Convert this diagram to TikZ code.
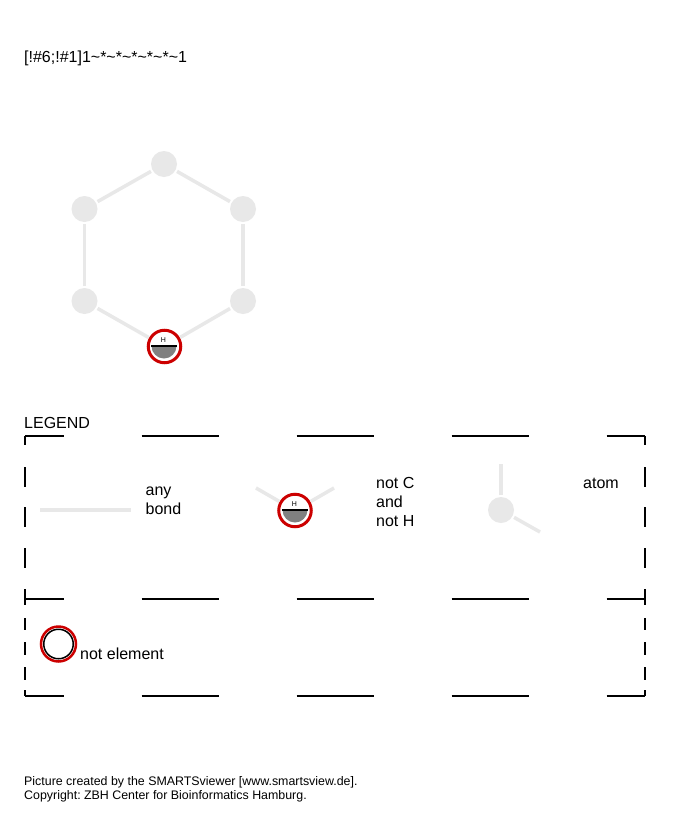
\documentclass[tikz,border=0pt]{standalone}
\usepackage{fontspec}
\setmainfont{Liberation Sans}
\usetikzlibrary{calc}
\frenchspacing

\definecolor{atomgray}{HTML}{E8E8E8}
\definecolor{halfgray}{HTML}{808080}
\definecolor{ringred}{HTML}{CC0000}

\tikzset{
	atomnode/.style={circle, fill=atomgray, minimum size=26pt, inner sep=0pt, outer sep=2pt},
	ringnode/.style={circle, draw=ringred, fill=white, line width=3pt, minimum size=32.5pt, inner sep=0pt, outer sep=2pt},
	bondline/.style={draw=atomgray, line width=3.5pt},
	frameline/.style={line width=1.8pt, black},
	label16/.style={anchor=west, inner sep=0pt, align=left, font=\fontsize{16}{19}\selectfont},
	label12/.style={anchor=west, inner sep=0pt, align=left, font=\fontsize{12.4}{14}\selectfont}
}

% half filled mark inside a ring node
\newcommand{\hmark}[2]{
	\fill [halfgray] (#1-12.5, #2) arc (180:0:12.5) -- cycle;
	\draw [line width=1.2pt] (#1-13, #2) -- (#1+13, #2);
	\node [inner sep=0pt, font=\fontsize{7}{7}\selectfont] at (#1-0.5, #2-6) {H};
}

\begin{document}
\begin{tikzpicture}[x=1pt, y=-1pt]
	\useasboundingbox (0,0) rectangle (700,830);
	\fill [white] (0,0) rectangle (700,830);

	\node [label16] (smarts) at (24, 58) {[!\#6;!\#1]1\char`~*\char`~*\char`~*\char`~*\char`~*\char`~1};

	%//six membered ring
	\node [atomnode] (a1) at (164, 164) {};
	\node [atomnode] (a2) at (243, 209) {};
	\node [atomnode] (a3) at (243, 301) {};
	\node [ringnode] (a4) at (164.5, 346.5) {};
	\node [atomnode] (a5) at (84.5, 301) {};
	\node [atomnode] (a6) at (84.5, 209) {};
	\hmark{164}{346}

	\foreach \a/\b in {a1/a2, a2/a3, a3/a4, a4/a5, a5/a6, a6/a1}
	\draw [bondline] (\a) -- (\b);

	\node [label16] (legend) at (24, 423) {LEGEND};

	%//legend frames
	\foreach \x/\y in {25/63.5, 141.5/218.5, 296.5/373.5, 451.5/528.5, 606.5/645}
	{
		\draw [frameline] (\x, 436) -- (\y, 436);
		\draw [frameline] (\x, 599) -- (\y, 599);
		\draw [frameline] (\x, 696) -- (\y, 696);
	}
	\foreach \x in {25, 645}
	{
		\foreach \y/\z in {436/445, 467/487, 507/527, 548/568, 589/605, 618/630, 642/655, 667/680, 690/696}
		\draw [frameline] (\x, \y) -- (\x, \z);
	}

	%//any bond
	\coordinate (b1) at (40, 510);
	\coordinate (b2) at (131, 510);
	\draw [bondline] (b1) -- (b2);
	\node [label16] (anybond) at (145.5, 501) {any\\bond};

	%//not C and not H
	\node [ringnode] (n1) at (295, 510.5) {};
	\hmark{295}{510}
	\coordinate (n2) at (256, 488);
	\coordinate (n3) at (334, 488);
	\draw [bondline] (n1) -- (n2);
	\draw [bondline] (n1) -- (n3);
	\node [label16] (notch) at (376, 502) {not C\\and\\not H};

	%//atom
	\node [atomnode] (t1) at (501, 510) {};
	\coordinate (t2) at (501, 464);
	\coordinate (t3) at (540, 532);
	\draw [bondline] (t1) -- (t2);
	\draw [bondline] (t1) -- (t3);
	\node [label16] (atomlabel) at (583, 483) {atom};

	%//not element
	\node [circle, draw=ringred, line width=2.5pt, minimum size=35pt, inner sep=0pt] (e1) at (58.5, 644) {};
	\node [circle, draw=black, line width=1.5pt, minimum size=29.5pt, inner sep=0pt] (e2) at (58.5, 644) {};
	\node [label16] (notel) at (80, 654) {not element};

	\node [label12] (credit) at (24, 789) {Picture created by the SMARTSviewer [www.smartsview.de].\\Copyright: ZBH Center for Bioinformatics Hamburg.};
\end{tikzpicture}
\end{document}
